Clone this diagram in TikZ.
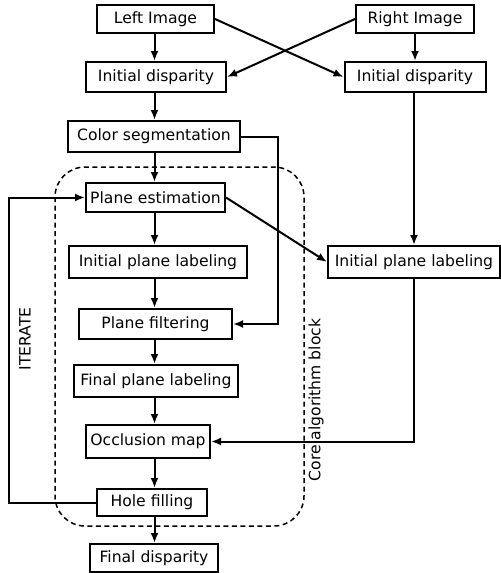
\documentclass[tikz,border=0pt]{standalone}
\usepackage{fontspec}
\setmainfont{DejaVu Sans}
\usetikzlibrary{arrows.meta,positioning}

\begin{document}
\begin{tikzpicture}[x=0.5pt, y=-0.5pt,
  block/.style={draw, line width=1pt, inner sep=0pt, minimum height=15pt,
    font=\fontsize{7.8}{9}\selectfont},
  flow/.style={-{Latex[length=5pt,width=4pt]}, line width=1pt},
  side/.style={font=\fontsize{7.8}{9}\selectfont, rotate=90},
  coreline/.style={line width=0.75pt, dash pattern=on 2.5pt off 1.75pt, rounded corners=15pt}
]
  \useasboundingbox (0,0) rectangle (500,573);

  % input images and the two disparities
  \node[block, minimum width=58.5pt, minimum height=14pt] (limg) at (155.5,19) {Left Image};
  \node[block, minimum width=59pt, minimum height=14pt] (rimg) at (415,19) {Right Image};
  \node[block, minimum width=70pt] (ldisp) at (156,77) {Initial disparity};
  \node[block, minimum width=70.5pt] (rdisp) at (415,77) {Initial disparity};
  \node[block, minimum width=86pt, minimum height=15.5pt] (cseg) at (154,136.5) {Color segmentation};

  % core block
  \node[block, minimum width=69.5pt, minimum height=14.5pt] (pest) at (155.5,197.5) {Plane estimation};
  \node[block, minimum width=89pt, minimum height=16pt] (ilab) at (158,262) {Initial plane labeling};
  \node[block, minimum width=76.5pt] (pfilt) at (155.5,324) {Plane filtering};
  \node[block, minimum width=82pt, minimum height=16pt] (flab) at (156,381) {Final plane labeling};
  \node[block, minimum width=62pt, minimum height=16.5pt] (occl) at (148,441.5) {Occlusion map};
  \node[block, minimum width=55pt, minimum height=13.5pt] (hole) at (152,502.5) {Hole filling};
  \node[block, minimum width=64pt, minimum height=14pt] (fdisp) at (154,558) {Final disparity};
  \node[block, minimum width=86pt, minimum height=16pt] (rlab) at (414,262) {Initial plane labeling};

  \draw[coreline] (55,167) rectangle (304,526);
  \node[side] (core) at (316,400) {Core algorithm block};
  \node[side] (iter) at (25,339) {ITERATE};

  \coordinate (spine) at (154.5,0);
  \coordinate (segturn) at (278,136.5);
  \coordinate (back) at (9,502.5);

  \draw[flow] (limg.south -| spine) -- (ldisp.north -| spine);
  \draw[flow] (rimg) -- (rdisp);
  \draw[flow] (limg.east) -- (rdisp.west);
  \draw[flow] (rimg.west) -- (ldisp.east);
  \draw[flow] (ldisp.south -| spine) -- (cseg.north -| spine);
  \draw[flow] (cseg.south -| spine) -- (pest.north -| spine);
  \draw[flow] (cseg.east) -- (segturn) |- (pfilt.east);
  \draw[flow] (pest.south -| spine) -- (ilab.north -| spine);
  \draw[flow] (ilab.south -| spine) -- (pfilt.north -| spine);
  \draw[flow] (pfilt.south -| spine) -- (flab.north -| spine);
  \draw[flow] (flab.south -| spine) -- (occl.north -| spine);
  \draw[flow] (occl.south -| spine) -- (hole.north -| spine);
  \draw[flow] (hole.south -| spine) -- (fdisp.north -| spine);
  \draw[flow] (pest.east) -- (rlab.west);
  \draw[flow] (rdisp.south -| rlab) -- (rlab.north);
  \draw[flow] (rlab.south) |- (occl.east);
  \draw[flow] (hole.west) -- (back) |- (pest.west);
\end{tikzpicture}
\end{document}
